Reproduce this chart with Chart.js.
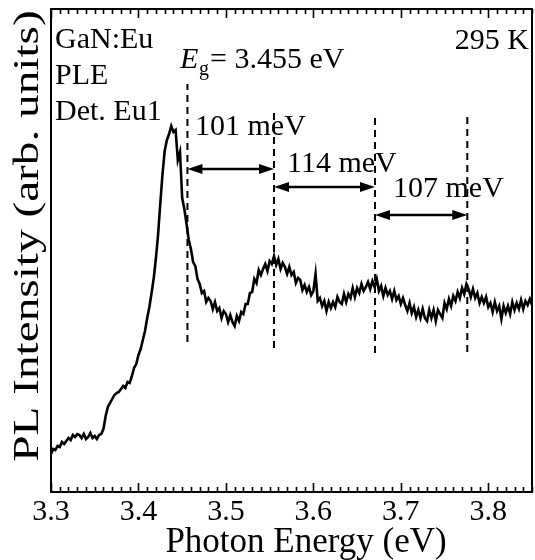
<!DOCTYPE html>
<html>
<head>
<meta charset="utf-8">
<script src="https://cdn.jsdelivr.net/npm/chart.js@4.4.1/dist/chart.umd.min.js"></script>
<style>
html, body { margin:0; padding:0; background:#fff; }
#graficoPLE { display:block; }
</style>
</head>
<body>
<canvas id="graficoPLE" width="535" height="560"></canvas>
<script>

// spectrum (photon energy in eV, PL intensity in arb. units)
const energy = [
  3.3000, 3.3025, 3.3050, 3.3075, 3.3100, 3.3125, 3.3150, 3.3175, 3.3200, 3.3225,
  3.3250, 3.3275, 3.3300, 3.3325, 3.3350, 3.3375, 3.3400, 3.3425, 3.3450, 3.3475,
  3.3500, 3.3525, 3.3550, 3.3575, 3.3600, 3.3625, 3.3650, 3.3675, 3.3700, 3.3725,
  3.3750, 3.3775, 3.3800, 3.3825, 3.3850, 3.3875, 3.3900, 3.3925, 3.3950, 3.3975,
  3.4000, 3.4025, 3.4050, 3.4075, 3.4100, 3.4125, 3.4150, 3.4175, 3.4200, 3.4225,
  3.4250, 3.4275, 3.4300, 3.4325, 3.4350, 3.4375, 3.4400, 3.4425, 3.4450, 3.4475,
  3.4500, 3.4525, 3.4550, 3.4575, 3.4600, 3.4625, 3.4650, 3.4675, 3.4700, 3.4725,
  3.4750, 3.4775, 3.4800, 3.4825, 3.4850, 3.4875, 3.4900, 3.4925, 3.4950, 3.4975,
  3.5000, 3.5025, 3.5050, 3.5075, 3.5100, 3.5125, 3.5150, 3.5175, 3.5200, 3.5225,
  3.5250, 3.5275, 3.5300, 3.5325, 3.5350, 3.5375, 3.5400, 3.5425, 3.5450, 3.5475,
  3.5500, 3.5525, 3.5550, 3.5575, 3.5600, 3.5625, 3.5650, 3.5675, 3.5700, 3.5725,
  3.5750, 3.5775, 3.5800, 3.5825, 3.5850, 3.5875, 3.5900, 3.5925, 3.5950, 3.5975,
  3.6000, 3.6025, 3.6050, 3.6075, 3.6100, 3.6125, 3.6150, 3.6175, 3.6200, 3.6225,
  3.6250, 3.6275, 3.6300, 3.6325, 3.6350, 3.6375, 3.6400, 3.6425, 3.6450, 3.6475,
  3.6500, 3.6525, 3.6550, 3.6575, 3.6600, 3.6625, 3.6650, 3.6675, 3.6700, 3.6725,
  3.6750, 3.6775, 3.6800, 3.6825, 3.6850, 3.6875, 3.6900, 3.6925, 3.6950, 3.6975,
  3.7000, 3.7025, 3.7050, 3.7075, 3.7100, 3.7125, 3.7150, 3.7175, 3.7200, 3.7225,
  3.7250, 3.7275, 3.7300, 3.7325, 3.7350, 3.7375, 3.7400, 3.7425, 3.7450, 3.7475,
  3.7500, 3.7525, 3.7550, 3.7575, 3.7600, 3.7625, 3.7650, 3.7675, 3.7700, 3.7725,
  3.7750, 3.7775, 3.7800, 3.7825, 3.7850, 3.7875, 3.7900, 3.7925, 3.7950, 3.7975,
  3.8000, 3.8025, 3.8050, 3.8075, 3.8100, 3.8125, 3.8150, 3.8175, 3.8200, 3.8225,
  3.8250, 3.8275, 3.8300, 3.8325, 3.8350, 3.8375, 3.8400, 3.8425, 3.8450, 3.8475,
  3.8500
];

const intensity = [
  38, 43, 42, 46, 45, 50, 48, 51, 54, 52,
  57, 55, 58, 57, 54, 58, 53, 55, 59, 54,
  56, 53, 57, 58, 63, 76, 85, 89, 93, 97,
  99, 100, 103, 106, 104, 110, 109, 116, 124, 128,
  137, 143, 152, 161, 174, 185, 199, 214, 234, 258,
  289, 318, 341, 352, 358, 366, 360, 362, 332, 340,
  294, 283, 268, 252, 243, 230, 226, 213, 208, 199,
  201, 190, 194, 191, 183, 190, 181, 184, 174, 181,
  178, 170, 177, 170, 166, 176, 171, 180, 178, 188,
  188, 199, 200, 213, 209, 222, 217, 223, 228, 221,
  231, 228, 236, 227, 233, 223, 229, 225, 218, 225,
  217, 220, 209, 214, 212, 202, 207, 200, 205, 197,
  201, 218, 191, 194, 186, 191, 181, 190, 184, 190,
  185, 195, 190, 188, 198, 190, 198, 194, 204, 195,
  204, 199, 208, 201, 205, 210, 203, 211, 205, 213,
  201, 206, 196, 204, 197, 201, 193, 201, 192, 196,
  188, 194, 187, 181, 189, 179, 185, 175, 182, 174,
  183, 174, 171, 182, 174, 182, 171, 182, 178, 174,
  189, 183, 193, 186, 196, 191, 200, 194, 204, 198,
  208, 203, 195, 203, 194, 199, 189, 195, 189, 195,
  185, 189, 180, 190, 181, 186, 173, 186, 179, 186,
  178, 190, 182, 189, 183, 192, 183, 191, 187, 193,
  187
];

// axis
const tickValues = [3.3, 3.4, 3.5, 3.6, 3.7, 3.8];
const tickLabels = ["3.3", "3.4", "3.5", "3.6", "3.7", "3.8"];

// dashed markers and spacings
const markerEnergy = [3.456, 3.555, 3.6705, 3.776];
const markerTop = [408, 382, 377, 379];
const markerBottom = [150, 144, 139, 140];
const gapLabels = ["101 meV", "114 meV", "107 meV"];
const gapLevel = [323, 305, 277];

const serif = '"Liberation Serif", "Times New Roman", serif';

//Datasets

const spectrum = {
    data: energy.map((e, i) => ({ x: e, y: intensity[i] })),
    borderColor: "#000",
    borderWidth: 2.6,
    pointRadius: 0,
    tension: 0
};

const markers = markerEnergy.map((e, i) => ({
    data: [{ x: e, y: markerBottom[i] }, { x: e, y: markerTop[i] }],
    borderColor: "#000",
    borderWidth: 2,
    borderDash: [7, 5],
    pointRadius: 0
}));

//Plugin: inside ticks, arrows, labels

function arrow(ctx, x1, x2, y){

    const head = 15, half = 5;

    ctx.beginPath();
    ctx.moveTo(x1 + head - 2, y);
    ctx.lineTo(x2 - head + 2, y);
    ctx.lineWidth = 2.5;
    ctx.stroke();

    ctx.beginPath();
    ctx.moveTo(x1, y);
    ctx.lineTo(x1 + head, y - half);
    ctx.lineTo(x1 + head, y + half);
    ctx.closePath();
    ctx.fill();

    ctx.beginPath();
    ctx.moveTo(x2, y);
    ctx.lineTo(x2 - head, y - half);
    ctx.lineTo(x2 - head, y + half);
    ctx.closePath();
    ctx.fill();
}

const decorations = {

    id: "decorations",

    afterDatasetsDraw(chart){

        const ctx = chart.ctx;
        const xs = chart.scales.x;
        const ys = chart.scales.y;
        const area = chart.chartArea;

        ctx.save();
        ctx.strokeStyle = "#000";
        ctx.fillStyle = "#000";

        // minor and major ticks pointing inwards, top and bottom
        ctx.lineWidth = 1.6;
        for (let i = 0; i <= 55; i++) {
            const px = Math.round(xs.getPixelForValue(3.3 + i * 0.01)) + 0.5;
            const len = (i % 10 === 0) ? 9 : 5;
            ctx.beginPath();
            ctx.moveTo(px, area.bottom);
            ctx.lineTo(px, area.bottom - len);
            ctx.moveTo(px, area.top);
            ctx.lineTo(px, area.top + len);
            ctx.stroke();
        }

        // arrows between markers
        gapLabels.forEach((t, i) => {
            arrow(
                ctx,
                xs.getPixelForValue(markerEnergy[i]),
                xs.getPixelForValue(markerEnergy[i + 1]),
                ys.getPixelForValue(gapLevel[i])
            );
        });

        // text
        ctx.textBaseline = "alphabetic";
        ctx.textAlign = "left";
        ctx.font = "30px " + serif;

        ctx.fillText("GaN:Eu", 55, 48);
        ctx.fillText("PLE", 55, 84);
        ctx.fillText("Det. Eu1", 55, 120);

        ctx.fillText(gapLabels[0], 195, 135);
        ctx.fillText(gapLabels[1], 287, 172);
        ctx.fillText(gapLabels[2], 393, 197);

        ctx.textAlign = "right";
        ctx.fillText("295 K", 529, 49);

        ctx.textAlign = "left";
        ctx.font = "italic 30px " + serif;
        ctx.fillText("E", 180, 68);
        ctx.font = "20px " + serif;
        ctx.fillText("g", 199, 75);
        ctx.font = "30px " + serif;
        ctx.fillText("= 3.455 eV", 210, 68);

        // axis titles
        ctx.textAlign = "center";
        ctx.font = "35px " + serif;
        ctx.fillText("Photon Energy (eV)", 306, 552);

        ctx.translate(38, 236);
        ctx.rotate(-Math.PI / 2);
        ctx.scale(1.35, 1);
        ctx.font = "35px " + serif;
        ctx.fillText("PL Intensity (arb. units)", 0, 0);

        ctx.restore();
    }
};

//Gráfico

const frame = {
    display: true,
    color: "#000",
    width: 2
};

new Chart(

    document.getElementById("graficoPLE"),

    {

    type: "line",

    data: {
        datasets: [spectrum, ...markers]
    },

    options: {

        responsive: false,
        animation: false,
        layout: { padding: 0 },

        plugins: {
            legend: { display: false },
            tooltip: { enabled: false }
        },

        scales: {

            x: {
                type: "linear",
                position: "bottom",
                min: 3.3,
                max: 3.85,
                afterBuildTicks: s => { s.ticks = tickValues.map(v => ({ value: v })); },
                afterFit: s => { s.height = 68; },
                ticks: {
                    callback: (v, i) => tickLabels[i],
                    color: "#000",
                    font: { family: serif, size: 30 },
                    padding: 2,
                    maxRotation: 0,
                    autoSkip: false
                },
                grid: { drawOnChartArea: false, drawTicks: false },
                border: frame
            },

            xTop: {
                type: "linear",
                position: "top",
                min: 3.3,
                max: 3.85,
                afterFit: s => { s.height = 9; },
                ticks: { display: false },
                grid: { drawOnChartArea: false, drawTicks: false },
                border: frame
            },

            y: {
                type: "linear",
                min: 0,
                max: 483,
                afterFit: s => { s.width = 51; },
                ticks: { display: false },
                grid: { drawOnChartArea: false, drawTicks: false },
                border: frame
            },

            yRight: {
                type: "linear",
                position: "right",
                min: 0,
                max: 483,
                afterFit: s => { s.width = 3; },
                ticks: { display: false },
                grid: { drawOnChartArea: false, drawTicks: false },
                border: frame
            }

        }

    },

    plugins: [decorations]

    }

);

</script>
</body>
</html>
